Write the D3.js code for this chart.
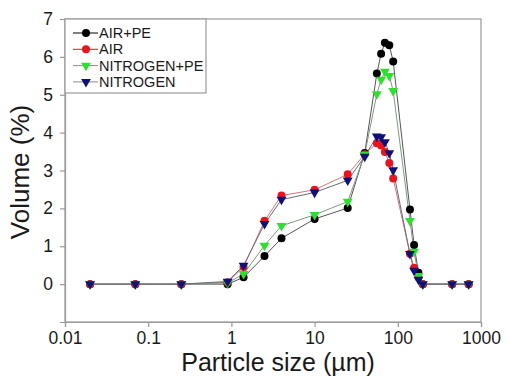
<!DOCTYPE html>
<html>
<head>
<meta charset="utf-8">
<script src="https://cdn.jsdelivr.net/npm/d3@7"></script>
<style>
  body { margin: 0; background: #fff; }
  svg { font-family: "Liberation Sans", Arial, sans-serif; }
</style>
</head>
<body>
<svg id="chart" width="507" height="376"></svg>
<script>
(function() {

  // Particle sizes (um), shared by all series.
  var sizes = [0.02, 0.07, 0.25, 0.9, 1.4, 2.5, 4, 10, 25, 40, 56, 63, 70, 79, 88, 140, 157, 177, 200, 450, 710];

  // Volume (%) per series.
  var airPE      = [0, 0, 0, 0,    0.18, 0.74, 1.21, 1.72, 2.01, 3.46, 5.56, 6.08, 6.37, 6.31, 5.88, 1.97, 1.03, 0.30, 0, 0, 0];
  var air        = [0, 0, 0, 0.05, 0.45, 1.67, 2.34, 2.49, 2.90, 3.43, 3.72, 3.66, 3.49, 3.20, 2.79, 0.80, 0.43, 0.18, 0, 0, 0];
  var nitrogenPE = [0, 0, 0, 0.03, 0.27, 1.02, 1.54, 1.83, 2.18, 3.42, 5.02, 5.40, 5.61, 5.50, 5.10, 1.67, 0.86, 0.22, 0, 0, 0];
  var nitrogen   = [0, 0, 0, 0.07, 0.49, 1.59, 2.23, 2.42, 2.74, 3.37, 3.90, 3.88, 3.75, 3.46, 3.01, 0.80, 0.36, 0.12, 0, 0, 0];

  // Series names.
  var names = ["AIR+PE", "AIR", "NITROGEN+PE", "NITROGEN"];

  // Tick labels.
  var xticks = [0.01, 0.1, 1, 10, 100, 1000];
  var xticklabels = ["0.01", "0.1", "1", "10", "100", "1000"];
  var yticks = [0, 1, 2, 3, 4, 5, 6, 7];

  // Series styles.
  var styles = [
    { fill: "#000000", line: "#555555", legendline: "#000000", shape: "circle" },
    { fill: "#e8141e", line: "#d27a7a", legendline: "#e8141e", shape: "circle" },
    { fill: "#2ee02e", line: "#7f9a7f", legendline: "#8a8a8a", shape: "triangle" },
    { fill: "#10107a", line: "#6a6a80", legendline: "#8a8a8a", shape: "triangle" }
  ];
  var values = [airPE, air, nitrogenPE, nitrogen];

  var left = 65, right = 481, top = 19, bottom = 322;

  var svg = d3.select("#chart");

  var x = d3.scaleLog().domain([0.01, 1000]).range([left, right]);
  var y = d3.scaleLinear().domain([-1, 7]).range([bottom, top]);

  // Frame.
  svg.append("rect")
    .attr("x", left).attr("y", top)
    .attr("width", right - left).attr("height", bottom - top)
    .attr("fill", "none").attr("stroke", "#9a9a9a").attr("stroke-width", 1.2);

  // Axes.
  var xAxis = svg.append("g")
    .attr("transform", "translate(0," + bottom + ")")
    .call(d3.axisBottom(x).tickValues(xticks)
      .tickFormat(function(d, i) { return xticklabels[i]; })
      .tickSize(5).tickPadding(5));

  var yAxis = svg.append("g")
    .attr("transform", "translate(" + left + ",0)")
    .call(d3.axisLeft(y).tickValues(yticks).tickFormat(d3.format("d"))
      .tickSize(5).tickPadding(7));

  [xAxis, yAxis].forEach(function(a) {
    a.select(".domain").attr("stroke", "#9a9a9a").attr("stroke-width", 1.2);
    a.selectAll(".tick line").attr("stroke", "#9a9a9a").attr("stroke-width", 1.2);
    a.selectAll(".tick text").attr("fill", "#1a1a1a")
      .attr("font-size", 17.5).attr("font-family", "Liberation Sans, Arial, sans-serif");
  });

  // Axis titles.
  svg.append("text")
    .attr("x", 278).attr("y", 371)
    .attr("text-anchor", "middle")
    .attr("font-size", 25).attr("fill", "#1a1a1a")
    .text("Particle size (\u00b5m)");

  svg.append("text")
    .attr("transform", "translate(29,172) rotate(-90)")
    .attr("text-anchor", "middle")
    .attr("font-size", 26).attr("fill", "#1a1a1a")
    .text("Volume (%)");

  var line = d3.line()
    .x(function(d) { return x(d[0]); })
    .y(function(d) { return y(d[1]); });

  var tri = d3.symbol().type(d3.symbolTriangle).size(42);

  function marker(g, st) {
    if (st.shape == "circle") {
      g.append("circle").attr("r", 4).attr("fill", st.fill);
    } else {
      g.append("path").attr("d", tri()).attr("transform", "rotate(180)")
        .attr("fill", st.fill);
    }
  }

  // Lines first, then markers.
  values.forEach(function(vals, i) {
    var pts = sizes.map(function(s, j) { return [s, vals[j]]; });
    svg.append("path")
      .datum(pts)
      .attr("d", line)
      .attr("fill", "none")
      .attr("stroke", styles[i].line)
      .attr("stroke-width", 1);
  });

  values.forEach(function(vals, i) {
    var pts = sizes.map(function(s, j) { return [s, vals[j]]; });
    var gs = svg.append("g").selectAll("g")
      .data(pts).enter().append("g")
      .attr("transform", function(d) { return "translate(" + x(d[0]) + "," + y(d[1]) + ")"; });
    gs.each(function() { marker(d3.select(this), styles[i]); });
  });

  // Legend.
  var legend = svg.append("g");
  legend.append("rect")
    .attr("x", left).attr("y", top)
    .attr("width", 141).attr("height", 74)
    .attr("fill", "#fff").attr("stroke", "#9a9a9a").attr("stroke-width", 1.2);

  names.forEach(function(n, i) {
    var cy = 33 + i * 16.3;
    legend.append("line")
      .attr("x1", 73).attr("x2", 98).attr("y1", cy).attr("y2", cy)
      .attr("stroke", styles[i].legendline).attr("stroke-width", 1);
    var m = legend.append("g").attr("transform", "translate(86," + cy + ")");
    marker(m, styles[i]);
    legend.append("text")
      .attr("x", 99).attr("y", cy + 5)
      .attr("font-size", 14.5).attr("fill", "#1a1a1a")
      .text(n);
  });

})();
</script>
</body>
</html>
